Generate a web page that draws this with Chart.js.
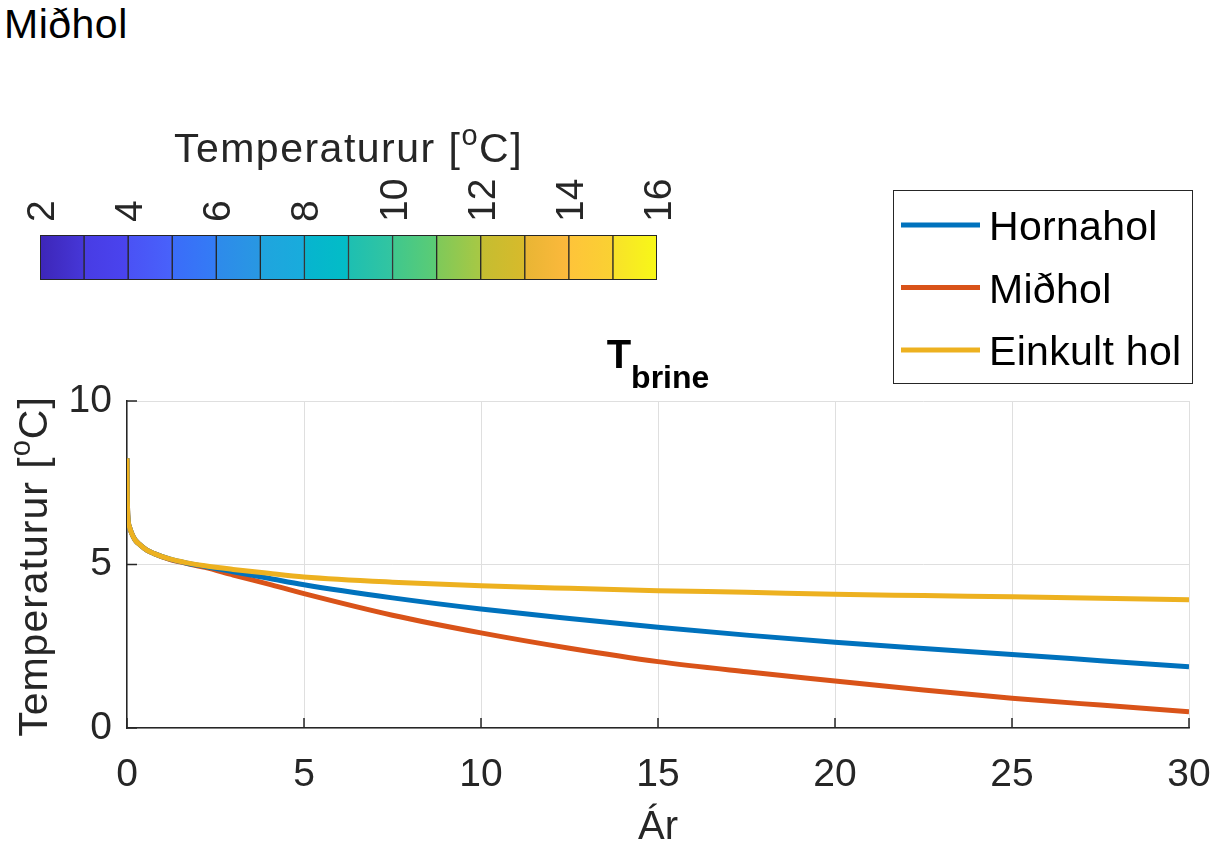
<!DOCTYPE html>
<html>
<head>
<meta charset="utf-8">
<script src="https://cdn.jsdelivr.net/npm/chart.js@4.4.1/dist/chart.umd.min.js"></script>
<style>
  body { margin: 0; background: #fff; }
  #wrap { position: relative; width: 1230px; height: 850px; overflow: hidden; font-family: "Liberation Sans", Arial, sans-serif; }
  #cbChart { position: absolute; left: 0; top: 100px; }
  #mainChart { position: absolute; left: 0; top: 0; }
  #figTitle { position: absolute; left: 4px; top: 1px; font-size: 41px; letter-spacing: 0.5px; color: #000; }
</style>
</head>
<body>
<div id="wrap">
  <div id="figTitle">Miðhol</div>
  <canvas id="cbChart" width="700" height="200"></canvas>
  <canvas id="mainChart" width="1230" height="850"></canvas>
</div>
<script>
// data
const years    = [0, 0.01, 0.03, 0.07, 0.13, 0.23, 0.37, 0.56, 0.75, 1.2, 1.7, 2.2, 3, 4, 5, 7.5, 10, 12.5, 15, 17.5, 20, 22.5, 25, 27.5, 30];
const hornahol = [8.25, 7.0, 6.4, 6.15, 5.96, 5.75, 5.6, 5.44, 5.34, 5.17, 5.04, 4.94, 4.78, 4.58, 4.38, 3.98, 3.64, 3.35, 3.08, 2.84, 2.62, 2.43, 2.25, 2.06, 1.87];
const midhol   = [8.25, 7.0, 6.4, 6.15, 5.96, 5.75, 5.6, 5.44, 5.34, 5.16, 5.03, 4.91, 4.68, 4.40, 4.11, 3.45, 2.91, 2.44, 2.03, 1.72, 1.44, 1.16, 0.91, 0.70, 0.50];
const einkult  = [8.25, 7.0, 6.4, 6.15, 5.96, 5.75, 5.6, 5.44, 5.34, 5.17, 5.05, 4.96, 4.85, 4.73, 4.62, 4.46, 4.35, 4.27, 4.20, 4.15, 4.09, 4.05, 4.01, 3.97, 3.92];
const seriesNames = ['Hornahol', 'Miðhol', 'Einkult hol'];
const xTickValues = [0, 5, 10, 15, 20, 25, 30];
const yTickValues = [0, 5, 10];

// colorbar
const cbLevels = [2, 3, 4, 5, 6, 7, 8, 9, 10, 11, 12, 13, 14, 15, 16];
const cbTickValues = [2, 4, 6, 8, 10, 12, 14, 16];

// styles
const FONT = '"Liberation Sans", Arial, sans-serif';
const INK = '#262626';
const seriesColors = ['#0072BD', '#D95319', '#EDB120'];
const cellStart = ['#3d26b8','#483ce4','#4a52f5','#3b6cf9','#2e8aeb','#20a4de','#07b4cf','#1dbfb2','#3fc78e','#7ec95a','#c4bd31','#e8b534','#fec43a','#f8e12a'];
const cellEnd   = ['#4637d8','#4a44ef','#4862fb','#337cf5','#2898e2','#18acdc','#02bdc6','#33c5a0','#5ccc74','#a8c844','#d8ba2b','#fdb93c','#fad132','#f8f817'];

function drawRich(ctx, parts, x, y, align, angle, spacing) {
  ctx.save();
  ctx.translate(x, y);
  if (angle) ctx.rotate(angle);
  ctx.letterSpacing = (spacing || 0) + 'px';
  let w = 0;
  parts.forEach(p => { ctx.font = p.font; p.w = ctx.measureText(p.text).width; w += p.w; });
  let cx = align === 'center' ? -w / 2 : (align === 'right' ? -w : 0);
  ctx.textAlign = 'left';
  ctx.textBaseline = 'alphabetic';
  parts.forEach(p => {
    ctx.font = p.font;
    ctx.fillStyle = p.color || INK;
    ctx.fillText(p.text, cx, p.dy || 0);
    cx += p.w;
  });
  ctx.restore();
}

function unitParts(size) {
  return [
    { text: 'Temperaturur [', font: size + 'px ' + FONT },
    { text: 'o', font: Math.round(size * 0.7) + 'px ' + FONT, dy: -size * 0.42 },
    { text: 'C]', font: size + 'px ' + FONT }
  ];
}

// ---- colorbar ----
const cbPlugin = {
  id: 'cbDecor',
  afterDraw(chart) {
    const { ctx, chartArea: a } = chart;
    ctx.save();
    ctx.strokeStyle = INK;
    ctx.lineWidth = 1;
    ctx.strokeRect(a.left + 0.5, a.top + 0.5, a.right - a.left - 1, a.bottom - a.top - 1);
    ctx.restore();
    drawRich(ctx, unitParts(41), (a.left + a.right) / 2, 62, 'center', 0, 1.5);
  }
};

new Chart(document.getElementById('cbChart'), {
  type: 'bar',
  data: {
    labels: ['T'],
    datasets: cbLevels.slice(0, -1).map((lo, i) => ({
      data: [[lo, cbLevels[i + 1]]],
      backgroundColor: c => {
        const ch = c.chart;
        if (!ch.chartArea) return cellStart[i];
        const xs = ch.scales.x;
        const g = ch.ctx.createLinearGradient(xs.getPixelForValue(lo), 0, xs.getPixelForValue(cbLevels[i + 1]), 0);
        g.addColorStop(0, cellStart[i]);
        g.addColorStop(1, cellEnd[i]);
        return g;
      },
      borderColor: INK,
      borderWidth: 1,
      borderSkipped: false,
      grouped: false,
      barPercentage: 1,
      categoryPercentage: 1
    }))
  },
  options: {
    indexAxis: 'y',
    responsive: false,
    animation: false,
    events: [],
    layout: { padding: { left: 40, right: 43, top: 0, bottom: 20 } },
    plugins: { legend: { display: false }, tooltip: { enabled: false } },
    scales: {
      x: {
        type: 'linear', position: 'top', min: 2, max: 16,
        afterBuildTicks: s => { s.ticks = cbTickValues.map(v => ({ value: v })); },
        afterFit: s => { s.height = 135; s.paddingLeft = 0; s.paddingRight = 0; },
        grid: { display: false, drawTicks: false },
        border: { display: false },
        ticks: { autoSkip: false, minRotation: 90, maxRotation: 90, padding: 13, labelOffset: 50, color: INK, font: { family: FONT, size: 39 } }
      },
      y: { display: false }
    }
  },
  plugins: [cbPlugin]
});

// ---- main axes ----
const mainPlugin = {
  id: 'mainDecor',
  afterDraw(chart) {
    const { ctx, chartArea: a, scales: { x, y } } = chart;
    ctx.save();
    ctx.strokeStyle = INK;
    ctx.lineWidth = 1.5;
    ctx.beginPath();
    x.ticks.forEach(t => {
      const px = x.getPixelForValue(t.value);
      ctx.moveTo(px, a.bottom); ctx.lineTo(px, a.bottom - 10);
    });
    y.ticks.forEach(t => {
      const py = y.getPixelForValue(t.value);
      ctx.moveTo(a.left, py); ctx.lineTo(a.left + 10, py);
    });
    ctx.stroke();
    ctx.restore();

    // y title
    drawRich(ctx, unitParts(41), 47, (a.top + a.bottom) / 2 + 2, 'center', -Math.PI / 2, 1);

    // title T_brine
    drawRich(ctx, [
      { text: 'T', font: 'bold 40px ' + FONT, color: '#000' },
      { text: 'brine', font: 'bold 32px ' + FONT, color: '#000', dy: 20 }
    ], (a.left + a.right) / 2, 368, 'center');

    // legend
    const box = { l: 893, t: 190, r: 1192, b: 383 };
    ctx.save();
    ctx.fillStyle = '#fff';
    ctx.fillRect(box.l, box.t, box.r - box.l, box.b - box.t);
    ctx.strokeStyle = INK;
    ctx.lineWidth = 1;
    ctx.strokeRect(box.l + 0.5, box.t + 0.5, box.r - box.l, box.b - box.t);
    chart.data.datasets.forEach((ds, i) => {
      const ly = 225 + i * 62.5;
      ctx.strokeStyle = ds.borderColor;
      ctx.lineWidth = 5;
      ctx.beginPath();
      ctx.moveTo(901, ly); ctx.lineTo(980, ly);
      ctx.stroke();
      ctx.fillStyle = '#000';
      ctx.font = '41px ' + FONT;
      ctx.letterSpacing = '0.3px';
      ctx.textAlign = 'left';
      ctx.textBaseline = 'alphabetic';
      ctx.fillText(ds.label, 989, ly + 15);
    });
    ctx.restore();
  }
};

const seriesData = [hornahol, midhol, einkult];
const drawOrder = [1, 2, 0];

new Chart(document.getElementById('mainChart'), {
  type: 'line',
  data: {
    datasets: seriesData.map((vals, i) => ({
      label: seriesNames[i],
      data: years.map((yr, k) => ({ x: yr, y: vals[k] })),
      borderColor: seriesColors[i],
      borderWidth: 5,
      pointRadius: 0,
      fill: false,
      cubicInterpolationMode: 'monotone',
      order: drawOrder[i]
    }))
  },
  options: {
    responsive: false,
    animation: false,
    events: [],
    layout: { padding: { left: 0, right: 41, top: 401, bottom: 0 } },
    plugins: { legend: { display: false }, tooltip: { enabled: false } },
    scales: {
      x: {
        type: 'linear', min: 0, max: 30,
        afterBuildTicks: s => { s.ticks = xTickValues.map(v => ({ value: v })); },
        afterFit: s => { s.height = 122; s.paddingLeft = 0; s.paddingRight = 0; },
        grid: { color: '#dfdfdf', lineWidth: 1, drawTicks: false },
        border: { color: INK, width: 1.5 },
        ticks: { padding: 24, color: INK, font: { family: FONT, size: 39 } },
        title: { display: true, text: 'Ár', color: INK, font: { family: FONT, size: 40, lineHeight: 1.2 }, padding: { top: 0, bottom: -2 } }
      },
      y: {
        type: 'linear', min: 0, max: 10,
        afterBuildTicks: s => { s.ticks = yTickValues.map(v => ({ value: v })); },
        afterFit: s => { s.width = 127; s.paddingTop = 0; s.paddingBottom = 0; },
        grid: { color: '#dfdfdf', lineWidth: 1, drawTicks: false },
        border: { color: INK, width: 1.5 },
        ticks: { padding: 15, color: INK, font: { family: FONT, size: 39 } }
      }
    }
  },
  plugins: [mainPlugin]
});
</script>
</body>
</html>
